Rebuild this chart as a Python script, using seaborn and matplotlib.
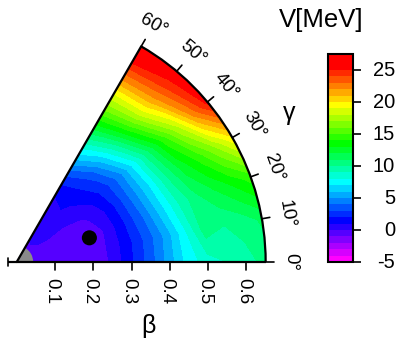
import colorsys
import numpy as np
import matplotlib
matplotlib.use("Agg")
import matplotlib.pyplot as plt
from matplotlib.patches import Wedge, Arc
import seaborn as sns

# ---------------- data ----------------
beta = [0.0, 0.05, 0.10, 0.15, 0.20, 0.25, 0.30, 0.35, 0.40, 0.45, 0.50, 0.55, 0.60, 0.65]
gamma_deg = [0, 10, 20, 30, 40, 50, 60]
V_g0 = [-0.6, -0.5, -0.6, -0.9, -0.9, 0.2, 1.8, 3.5, 5.5, 7.5, 8.5, 9.0, 9.6, 10.3]
V_g10 = [-0.6, -0.5, -0.7, -0.9, -0.9, 0.3, 1.8, 3.5, 5.5, 8.0, 10.6, 10.0, 10.4, 11.2]
V_g20 = [-0.6, -0.5, -0.6, -0.8, -0.9, 0.2, 2.0, 4.0, 6.5, 9.0, 10.8, 12.0, 13.2, 14.5]
V_g30 = [-0.6, -0.3, -0.5, -0.5, -0.3, 0.5, 2.2, 4.5, 7.0, 10.0, 12.5, 14.5, 17.0, 19.8]
V_g40 = [-0.6, -0.2, 0.3, 0.2, 0.5, 1.2, 2.5, 4.5, 7.5, 11.0, 14.5, 18.0, 22.3, 25.4]
V_g50 = [-0.6, -0.1, 0.5, 0.7, 1.2, 2.0, 3.5, 6.5, 10.0, 14.0, 18.0, 21.5, 24.2, 26.2]
V_g60 = [-0.6, -0.2, 0.5, 0.8, 1.0, 2.5, 5.5, 8.5, 12.0, 15.5, 18.5, 22.0, 25.0, 26.8]

levels = [-5, -4, -3, -2, -1, 0, 1, 2, 3, 4, 5, 6, 7, 8, 9, 10, 11, 12, 13, 14,
          15, 16, 17, 18, 19, 20, 21, 22, 23, 24, 25, 26, 27, 27.5]
cbar_ticks = [-5, 0, 5, 10, 15, 20, 25]
beta_ticks = [0.1, 0.2, 0.3, 0.4, 0.5, 0.6]
gamma_ticks = [0, 10, 20, 30, 40, 50, 60]
minimum_beta = 0.20
minimum_gamma = 18.4
excluded_beta = 0.043
beta_max = 0.65
beta_axis_start = -0.023

# ---------------- style ----------------
sns.set_theme(style="white")
plt.rcParams["font.family"] = ["Liberation Sans", "DejaVu Sans"]
plt.rcParams["text.color"] = "black"
plt.rcParams["ytick.color"] = "black"
plt.rcParams["xtick.color"] = "black"

V = np.array([V_g0, V_g10, V_g20, V_g30, V_g40, V_g50, V_g60])
B, G = np.meshgrid(np.array(beta), np.radians(gamma_deg))
X = B * np.cos(G)
Y = B * np.sin(G)

nb = len(levels) - 1
colors = []
for i in range(nb):
    h = max(0.0, 300.0 * (1 - i / 30.0)) / 360.0
    colors.append(colorsys.hsv_to_rgb(h, 1.0, 1.0))

fig = plt.figure(figsize=(4.0, 3.44), dpi=100)
ax = fig.add_axes([0, 0, 1, 1])
px = 383.0
x0, y0 = 16.7, 262.0
ax.set_xlim(-x0 / px, (400 - x0) / px)
ax.set_ylim(-(344 - y0) / px, y0 / px)
ax.set_aspect("equal")
ax.axis("off")

cf = ax.contourf(X, Y, V, levels=levels, colors=colors)

ax.add_patch(Wedge((0, 0), excluded_beta, 0, 60, facecolor="#8a8a8a",
                   edgecolor="none", zorder=3))

lw = 1.6
ax.plot([beta_axis_start, beta_max], [0, 0], color="black", lw=lw, zorder=4,
        solid_capstyle="butt")
ax.plot([beta_axis_start, beta_axis_start], [-0.011, 0.011], color="black",
        lw=1.2, zorder=4)
g60 = np.radians(60)
ax.plot([0, beta_max * np.cos(g60)], [0, beta_max * np.sin(g60)], color="black",
        lw=lw, zorder=4)
ax.add_patch(Arc((0, 0), 2 * beta_max, 2 * beta_max, theta1=0, theta2=60,
                 color="black", lw=lw, zorder=4))

tl = 0.021
for b in beta_ticks:
    ax.plot([b, b], [0, -tl], color="black", lw=1.2, zorder=4)
    ax.text(b - 0.008, -0.076, f"{b:.1f}", rotation=-90, ha="center",
            va="center", fontsize=13.5)

for g in gamma_ticks:
    gr = np.radians(g)
    ax.plot([beta_max * np.cos(gr), (beta_max + tl) * np.cos(gr)],
            [beta_max * np.sin(gr), (beta_max + tl) * np.sin(gr)],
            color="black", lw=1.2, zorder=4)
    r = 0.715
    ax.text(r * np.cos(gr), r * np.sin(gr), f"{g}°", rotation=g - 90,
            ha="center", va="center", fontsize=13.5, rotation_mode="anchor")

mg = np.radians(minimum_gamma)
sns.scatterplot(x=[minimum_beta * np.cos(mg)], y=[minimum_beta * np.sin(mg)],
                s=118, color="black", edgecolor="none", ax=ax, legend=False,
                zorder=5)

ax.text(0.711, 0.389, "γ", ha="center", va="center", fontsize=18)
ax.text(0.343, -0.167, "β", ha="center", va="center", fontsize=18)

cax = fig.add_axes([328 / 400, (344 - 262) / 344, 25 / 400, 208 / 344])
cb = fig.colorbar(cf, cax=cax, ticks=cbar_ticks, spacing="proportional")
cb.outline.set_linewidth(1.5)
cb.outline.set_edgecolor("black")
cax.tick_params(axis="y", length=6, width=1.2, color="black", right=True,
                labelright=False, direction="out")
trans = cax.get_yaxis_transform()
for t in cbar_ticks:
    cax.text((395 - 328) / 25, t, f"{t}", transform=trans, ha="right",
             va="center", fontsize=14.5)

fig.text(321 / 400, 1 - 20 / 344, "V[MeV]", ha="center", va="center", fontsize=18.5)

fig.savefig("out.png", dpi=100)
